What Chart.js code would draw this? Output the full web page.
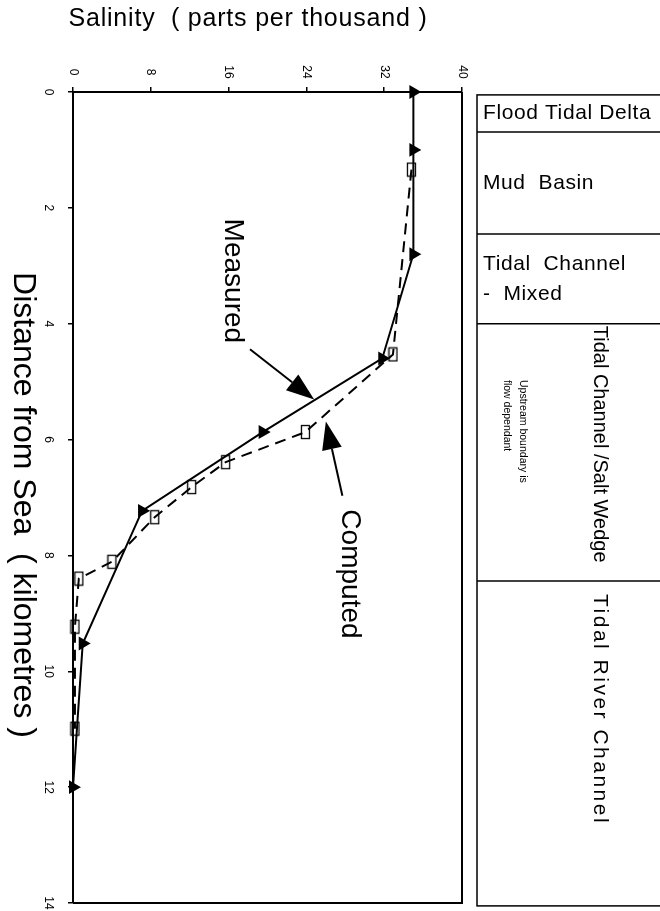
<!DOCTYPE html>
<html>
<head>
<meta charset="utf-8">
<script src="https://cdn.jsdelivr.net/npm/chart.js@4.4.1/dist/chart.umd.min.js"></script>
<style>
  html, body { margin: 0; padding: 0; background: #fff; }
  #wrap { width: 660px; height: 911px; position: relative; }
</style>
</head>
<body>
<div id="wrap"><canvas id="salinityChart"></canvas></div>
<script>
// salinity profile along the estuary (chart is drawn "on its side")
const measuredKm = [0, 1.0, 2.8, 4.6, 5.87, 7.23, 9.52, 12.0];
const measuredSal = [35, 35, 35, 31.8, 19.5, 7.1, 1.0, 0];

const computedKm = [1.34, 4.53, 5.87, 6.39, 6.82, 7.34, 8.11, 8.4, 9.23, 10.99];
const computedSal = [34.8, 32.9, 23.9, 15.7, 12.2, 8.4, 4.0, 0.6, 0.2, 0.2];

const salinityTicks = [0, 8, 16, 24, 32, 40];
const distanceTicks = [0, 2, 4, 6, 8, 10, 12, 14];

// zones on the right hand side, in km
const zoneNames = ['Flood Tidal Delta', 'Mud  Basin', 'Tidal  Channel', 'Tidal Channel /Salt Wedge', 'Tidal River Channel'];
const zoneBounds = [0.05, 0.69, 2.45, 4.0, 8.44, 14.05];

const FONT = '"Liberation Sans", Arial, sans-serif';

// open tall rectangle used for the computed points
function makeRectMarker() {
    const c = document.createElement('canvas');
    c.width = 11;
    c.height = 16;
    const g = c.getContext('2d');
    g.strokeStyle = '#000';
    g.lineWidth = 1.3;
    g.strokeRect(1.5, 1.5, 8, 13);
    return c;
}

function rotText(ctx, text, x, y, align) {
    ctx.save();
    ctx.translate(x, y);
    ctx.rotate(Math.PI / 2);
    ctx.textAlign = align || 'center';
    ctx.textBaseline = 'middle';
    ctx.fillText(text, 0, 0);
    ctx.restore();
}

function arrow(ctx, x1, y1, x2, y2) {
    const ang = Math.atan2(y2 - y1, x2 - x1);
    const len = 28, half = 10;
    const bx = x2 - Math.cos(ang) * len, by = y2 - Math.sin(ang) * len;
    ctx.beginPath();
    ctx.moveTo(x1, y1);
    ctx.lineTo(bx, by);
    ctx.lineWidth = 2;
    ctx.stroke();
    ctx.beginPath();
    ctx.moveTo(x2, y2);
    ctx.lineTo(bx + Math.sin(ang) * half, by - Math.cos(ang) * half);
    ctx.lineTo(bx - Math.sin(ang) * half, by + Math.cos(ang) * half);
    ctx.closePath();
    ctx.fill();
}

const decorations = {
    id: 'decorations',
    afterDraw(chart) {
        const ctx = chart.ctx;
        const area = chart.chartArea;
        const xs = chart.scales.x, ys = chart.scales.y;
        ctx.save();
        ctx.fillStyle = '#000';
        ctx.strokeStyle = '#000';

        // frame right + bottom
        ctx.lineWidth = 2;
        ctx.beginPath();
        ctx.moveTo(area.right, area.top);
        ctx.lineTo(area.right, area.bottom);
        ctx.lineTo(area.left, area.bottom);
        ctx.stroke();

        // tick labels, rotated
        ctx.font = '12px ' + FONT;
        salinityTicks.forEach(v => rotText(ctx, String(v), xs.getPixelForValue(v), 72));
        distanceTicks.forEach(v => rotText(ctx, String(v), 48, ys.getPixelForValue(v)));

        // axis titles
        ctx.font = '25px ' + FONT;
        ctx.letterSpacing = '0.8px';
        ctx.textAlign = 'center';
        ctx.textBaseline = 'middle';
        ctx.fillText('Salinity  ( parts per thousand )', 248, 19);
        ctx.letterSpacing = '0px';
        ctx.font = '32px ' + FONT;
        rotText(ctx, 'Distance from Sea  ( kilometres )', 23, 505);

        // annotations
        ctx.font = '28px ' + FONT;
        rotText(ctx, 'Measured', xs.getPixelForValue(16.4), ys.getPixelForValue(3.26));
        rotText(ctx, 'Computed', xs.getPixelForValue(28.5), ys.getPixelForValue(8.32));
        arrow(ctx, xs.getPixelForValue(18.2), ys.getPixelForValue(4.44), xs.getPixelForValue(24.8), ys.getPixelForValue(5.31));
        arrow(ctx, xs.getPixelForValue(27.7), ys.getPixelForValue(6.97), xs.getPixelForValue(26.0), ys.getPixelForValue(5.69));

        // zone table
        const bx = 477, bRight = 664;
        const yb = zoneBounds.map(v => ys.getPixelForValue(v));
        ctx.lineWidth = 1.5;
        ctx.strokeRect(bx, yb[0], bRight - bx, yb[yb.length - 1] - yb[0]);
        for (let i = 1; i < yb.length - 1; i++) {
            ctx.beginPath();
            ctx.moveTo(bx, yb[i]);
            ctx.lineTo(bRight, yb[i]);
            ctx.stroke();
        }
        ctx.font = '21px ' + FONT;
        ctx.letterSpacing = '0.6px';
        ctx.textAlign = 'left';
        ctx.textBaseline = 'middle';
        ctx.fillText(zoneNames[0], 483, (yb[0] + yb[1]) / 2);
        ctx.fillText(zoneNames[1], 483, (yb[1] + yb[2]) / 2);
        ctx.fillText(zoneNames[2], 483, 264);
        ctx.fillText('-  Mixed', 483, 294);
        ctx.letterSpacing = '0px';
        ctx.font = '20px ' + FONT;
        rotText(ctx, zoneNames[3], 600, yb[3] + 2, 'left');
        ctx.font = '21px ' + FONT;
        ctx.letterSpacing = '2.5px';
        rotText(ctx, zoneNames[4], 600, 594, 'left');
        ctx.letterSpacing = '0px';
        ctx.font = '10.5px ' + FONT;
        rotText(ctx, 'Upstream boundary is', 523, 380, 'left');
        rotText(ctx, 'flow dependant', 507, 380, 'left');
        ctx.restore();
    }
};

const ctx = document.getElementById('salinityChart').getContext('2d');
new Chart(ctx, {
    type: 'scatter',
    data: {
        datasets: [{
            label: 'Measured',
            data: measuredKm.map((km, i) => ({ x: measuredSal[i], y: km })),
            showLine: true,
            borderColor: '#000',
            backgroundColor: '#000',
            borderWidth: 2,
            pointStyle: 'triangle',
            rotation: 90,
            pointRadius: 6,
            pointHoverRadius: 6,
            clip: false
        }, {
            label: 'Computed',
            data: computedKm.map((km, i) => ({ x: computedSal[i], y: km })),
            showLine: true,
            borderColor: '#000',
            backgroundColor: 'transparent',
            borderWidth: 2,
            borderDash: [11, 7],
            pointStyle: makeRectMarker(),
            pointRadius: 6,
            clip: false
        }]
    },
    options: {
        responsive: true,
        maintainAspectRatio: false,
        animation: false,
        layout: { padding: { top: 0, left: 0, right: 198, bottom: 6 } },
        plugins: {
            legend: { display: false },
            tooltip: { enabled: false }
        },
        scales: {
            x: {
                type: 'linear',
                position: 'top',
                min: 0,
                max: 40,
                afterFit: scale => { scale.height = 92; },
                afterBuildTicks: scale => { scale.ticks = salinityTicks.map(v => ({ value: v })); },
                ticks: { display: false },
                grid: { drawOnChartArea: false, tickLength: 5, color: '#000', lineWidth: 1.5 },
                border: { display: true, color: '#000', width: 2 }
            },
            y: {
                type: 'linear',
                position: 'left',
                reverse: true,
                min: 0,
                max: 14,
                afterFit: scale => { scale.width = 73; },
                afterBuildTicks: scale => { scale.ticks = distanceTicks.map(v => ({ value: v })); },
                ticks: { display: false },
                grid: { drawOnChartArea: false, tickLength: 5, color: '#000', lineWidth: 1.5 },
                border: { display: true, color: '#000', width: 2 }
            }
        }
    },
    plugins: [decorations]
});
</script>
</body>
</html>
